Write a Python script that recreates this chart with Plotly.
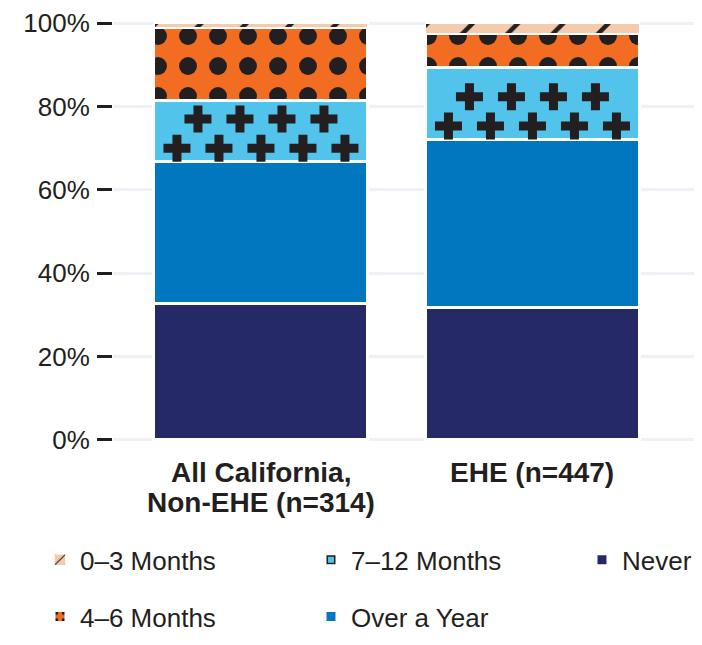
import plotly.graph_objects as go

categories = ["All California,<br>Non-EHE (n=314)", "EHE (n=447)"]
never = [32.7, 31.8]
over_a_year = [34.1, 40.3]
months_7_12 = [14.7, 17.3]
months_4_6 = [17.4, 8.1]
months_0_3 = [1.1, 2.5]
tick_vals = [0, 20, 40, 60, 80, 100]
tick_text = ["0%", "20%", "40%", "60%", "80%", "100%"]

INK = "#231f20"
FONT = "Liberation Sans, Arial, Helvetica, sans-serif"
xpos = list(range(len(categories)))

fig = go.Figure()

def add_bar(name, vals, color, rank, pattern=None, legendwidth=None, lw=3):
    pat = dict(shape="", fgcolor=INK, bgcolor=color, fillmode="replace")
    if pattern:
        pat.update(pattern)
    kw = {}
    if legendwidth:
        kw["legendwidth"] = legendwidth
    fig.add_trace(go.Bar(
        x=xpos, y=vals, name=name, legendrank=rank, legendgroup=name,
        width=0.788,
        marker=dict(color=color, line=dict(color="white", width=lw), pattern=pat),
        hoverinfo="skip", **kw,
    ))

add_bar("Never", never, "#252a67", 3, legendwidth=70)
add_bar("Over a Year", over_a_year, "#0077bf", 5)
add_bar("7–12 Months", months_7_12, "#52c3ea", 2, pattern=dict(shape="+", size=14, solidity=0.45))
add_bar("4–6 Months", months_4_6, "#f26d21", 4, pattern=dict(shape=".", size=30, solidity=0.28))
add_bar("0–3 Months", months_0_3, "#f5cbae", 1, pattern=dict(shape="/", size=32, solidity=0.14), lw=1.5)

# cross texture on the 7–12 segment, placed from the stacked data values
cross_x, cross_y = [], []
pitch_x, first_row, row_gap, top_pad = 0.1547, 3.2, 7.0, 3.2
for i in xpos:
    base = never[i] + over_a_year[i]
    top = base + months_7_12[i]
    row = 0
    y = base + first_row
    while y + top_pad <= top:
        offs = [-2, -1, 0, 1, 2] if row % 2 == 0 else [-1.5, -0.5, 0.5, 1.5]
        for o in offs:
            cross_x.append(i + o * pitch_x)
            cross_y.append(y)
        row += 1
        y += row_gap

# plain fill over the 7–12 segment so only the crosses show in the bars
fig.add_trace(go.Bar(
    x=xpos, y=months_7_12, base=[never[i] + over_a_year[i] for i in xpos],
    width=0.788, showlegend=False, hoverinfo="skip",
    marker=dict(color="#52c3ea", line=dict(color="white", width=3)),
))
fig.add_trace(go.Scatter(
    x=cross_x, y=cross_y, mode="markers", showlegend=False, hoverinfo="skip",
    marker=dict(symbol="cross", size=22.5, color=INK, line=dict(width=0)),
))

annotations = []
for i, cat in zip(xpos, categories):
    for k, line in enumerate(cat.split("<br>")):
        annotations.append(dict(
            x=i, y=0, xref="x", yref="y", text=f"<b>{line}</b>", showarrow=False,
            xanchor="center", yanchor="middle", yshift=-33 - 30 * k,
            font=dict(size=28, color=INK, family=FONT),
        ))

fig.update_layout(
    barmode="stack",
    width=702, height=645,
    margin=dict(l=105, r=0, t=13, b=211),
    paper_bgcolor="white", plot_bgcolor="white",
    font=dict(family=FONT, color=INK, size=26),
    showlegend=True,
    annotations=annotations,
    legend=dict(
        orientation="h", xref="paper", yref="paper",
        x=-0.1223, y=-0.2242, xanchor="left", yanchor="top",
        entrywidth=226, font=dict(size=26, color=INK),
        traceorder="grouped", tracegroupgap=20,
    ),
    xaxis=dict(
        range=[-0.545, 1.654], showgrid=False, zeroline=False, showline=False,
        showticklabels=False, ticks="", automargin=False, fixedrange=True,
    ),
    yaxis=dict(
        range=[-0.5, 100.5], tickvals=tick_vals, ticktext=tick_text,
        showgrid=True, gridcolor="#eef1f6", gridwidth=3, zeroline=False,
        showline=False, ticks="outside", ticklen=15, tickwidth=2.5, tickcolor=INK,
        tickfont=dict(size=26, color=INK), ticklabelstandoff=2, automargin=False,
    ),
)

fig.write_html("out.html")
